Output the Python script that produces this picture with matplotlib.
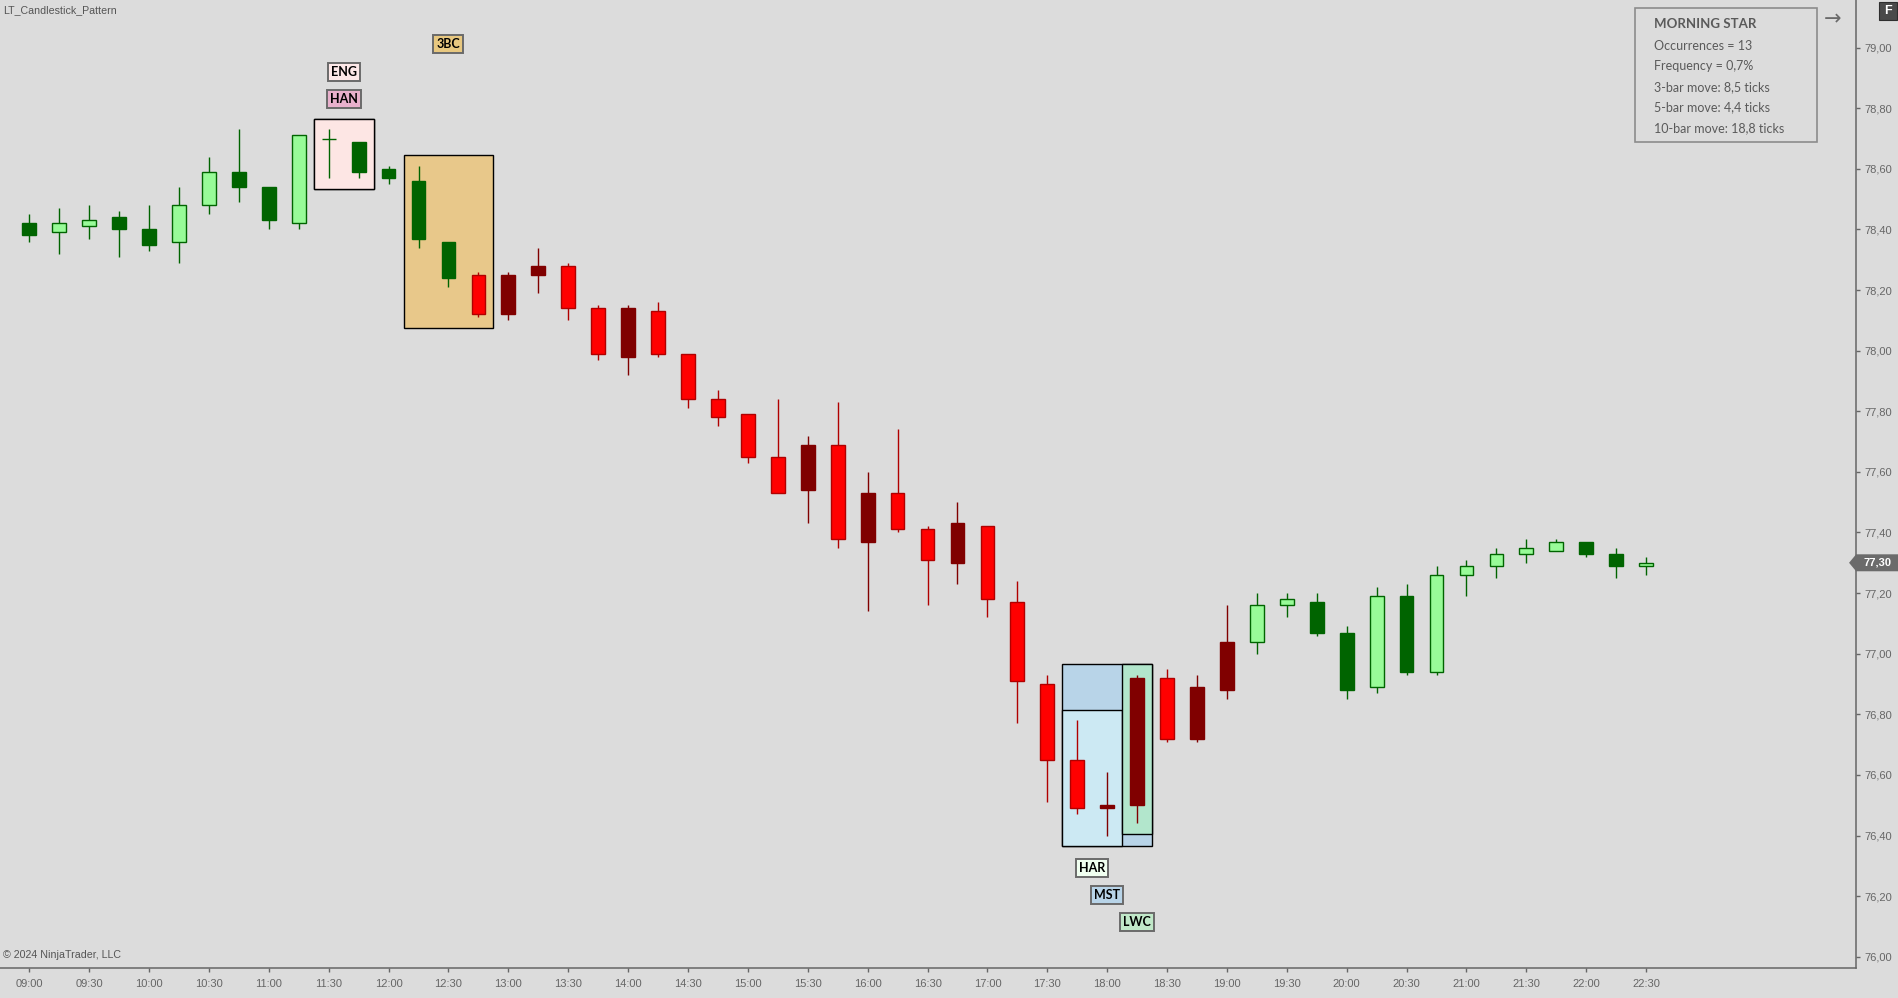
import matplotlib.pyplot as plt
import matplotlib.transforms as mtransforms
from matplotlib.patches import Rectangle, Polygon
import numpy as np

# 15 minute bars, 09:00 .. 22:30
opens = [78.42, 78.39, 78.41, 78.44, 78.40, 78.36, 78.48, 78.59, 78.54, 78.42,
         78.70, 78.69, 78.60, 78.56, 78.36, 78.25, 78.12, 78.25, 78.28, 78.14,
         77.98, 78.13, 77.99, 77.84, 77.79, 77.65, 77.54, 77.69, 77.37, 77.53,
         77.41, 77.30, 77.42, 77.17, 76.90, 76.65, 76.49, 76.50, 76.92, 76.72,
         76.88, 77.04, 77.16, 77.17, 77.07, 76.89, 77.19, 76.94, 77.26, 77.29,
         77.33, 77.34, 77.37, 77.33, 77.29]
highs = [78.45, 78.47, 78.48, 78.46, 78.48, 78.54, 78.64, 78.73, 78.54, 78.71,
         78.73, 78.69, 78.61, 78.61, 78.36, 78.26, 78.26, 78.34, 78.29, 78.15,
         78.15, 78.16, 77.99, 77.87, 77.79, 77.84, 77.72, 77.83, 77.60, 77.74,
         77.42, 77.50, 77.42, 77.24, 76.93, 76.78, 76.61, 76.93, 76.95, 76.93,
         77.16, 77.20, 77.20, 77.20, 77.09, 77.22, 77.23, 77.29, 77.31, 77.35,
         77.38, 77.38, 77.37, 77.35, 77.32]
lows = [78.36, 78.32, 78.37, 78.31, 78.33, 78.29, 78.45, 78.49, 78.40, 78.40,
        78.57, 78.57, 78.55, 78.34, 78.21, 78.11, 78.10, 78.19, 78.10, 77.97,
        77.92, 77.98, 77.81, 77.75, 77.63, 77.53, 77.43, 77.35, 77.14, 77.40,
        77.16, 77.23, 77.12, 76.77, 76.51, 76.47, 76.40, 76.44, 76.71, 76.71,
        76.85, 77.00, 77.12, 77.06, 76.85, 76.87, 76.93, 76.93, 77.19, 77.25,
        77.30, 77.34, 77.32, 77.25, 77.26]
closes = [78.38, 78.42, 78.43, 78.40, 78.35, 78.48, 78.59, 78.54, 78.43, 78.71,
          78.70, 78.59, 78.57, 78.37, 78.24, 78.12, 78.25, 78.28, 78.14, 77.99,
          78.14, 77.99, 77.84, 77.78, 77.65, 77.53, 77.69, 77.38, 77.53, 77.41,
          77.31, 77.43, 77.18, 76.91, 76.65, 76.49, 76.50, 76.92, 76.72, 76.89,
          77.04, 77.16, 77.18, 77.07, 76.88, 77.19, 76.94, 77.26, 77.29, 77.33,
          77.35, 77.37, 77.33, 77.29, 77.30]
trend = ['up'] * 15 + ['down'] * 26 + ['up'] * 14

time_labels = ['09:00', '09:30', '10:00', '10:30', '11:00', '11:30', '12:00',
               '12:30', '13:00', '13:30', '14:00', '14:30', '15:00', '15:30',
               '16:00', '16:30', '17:00', '17:30', '18:00', '18:30', '19:00',
               '19:30', '20:00', '20:30', '21:00', '21:30', '22:00', '22:30']

# patterns: name, first bar, last bar
pat_names = ['HAN', 'ENG', '3BC', 'MST', 'HAR', 'LWC']
pat_first = [10, 10, 13, 35, 35, 37]
pat_last = [11, 11, 15, 37, 36, 37]

info_title = 'MORNING STAR'
info_lines = ['Occurrences = 13', 'Frequency = 0,7%', '3-bar move: 8,5 ticks',
              '5-bar move: 4,4 ticks', '10-bar move: 18,8 ticks']

# styles
box_color = {'HAN': '#e8b4cc', 'ENG': '#fde6e4', '3BC': '#e8c88a',
             'MST': '#b8d4e8', 'HAR': '#cce9f3', 'LWC': '#b2e6cc'}
label_color = {'HAN': '#e8b0cc', 'ENG': '#fde8e8', '3BC': '#e8c880',
               'MST': '#b8d4e8', 'HAR': '#f0fff0', 'LWC': '#c0e8c8'}
# offset of the label from its box edge, pixels (+ above, - below)
label_off = {'HAN': 20, 'ENG': 47, '3BC': 111, 'HAR': -22, 'MST': -49, 'LWC': -88}

W, H = 1898, 998
BG = '#dcdcdc'
plt.rcParams['font.family'] = ['Liberation Sans', 'DejaVu Sans']


def fx(px):
    return px / W


def fy(py):
    return 1 - py / H


fig = plt.figure(figsize=(W / 100, H / 100), dpi=100, facecolor=BG)
ax = fig.add_axes([0, fy(968.3), fx(1856.3), 968.3 / H], facecolor=BG)

n = len(opens)
x = np.arange(n)
o = np.array(opens)
c = np.array(closes)

fills, edges = [], []
for i in range(n):
    up = c[i] > o[i]
    if trend[i] == 'up':
        fills.append('#98fb98' if up else '#006400')
        edges.append('#006400')
    else:
        fills.append('#800000' if up else '#ff0000')
        edges.append('#800000' if up else '#b00000')

# pattern boxes (under the candles)
pad = 0.035
for name, a, b in zip(pat_names, pat_first, pat_last):
    top = max(highs[a:b + 1]) + pad
    bot = min(lows[a:b + 1]) - pad
    ax.add_patch(Rectangle((a - 0.5, bot), b - a + 1, top - bot,
                           facecolor=box_color[name], edgecolor='black',
                           lw=1.0, zorder=1))
    off = label_off[name]
    ax.annotate(name, xy=((a + b) / 2, top if off > 0 else bot),
                xytext=(0, off), textcoords='offset pixels',
                ha='center', va='center', fontsize=9, fontweight='bold',
                family=['Lato', 'DejaVu Sans'], color='black',
                bbox=dict(boxstyle='square,pad=0.25', facecolor=label_color[name],
                          edgecolor='#6a6a6a', lw=1.4),
                annotation_clip=False, zorder=5)

ax.vlines(x, lows, highs, colors=edges, lw=1.0, zorder=2)
ax.bar(x, np.abs(c - o), bottom=np.minimum(o, c), width=0.46,
       color=fills, edgecolor=edges, lw=1.0, zorder=3)

ax.set_xlim(-0.979, 61.02)
ax.set_ylim(75.962, 79.157)

ax.spines['top'].set_visible(False)
ax.spines['left'].set_visible(False)
for s in ['right', 'bottom']:
    ax.spines[s].set_color('#666666')
    ax.spines[s].set_linewidth(1.1)

ax.set_xticks(x[::2])
ax.set_xticklabels(time_labels)
yt = np.arange(76.0, 79.01, 0.2)
ax.set_yticks(yt)
ax.set_yticklabels([('%.2f' % v).replace('.', ',') for v in yt])
ax.yaxis.tick_right()
ax.tick_params(axis='both', direction='out', length=3, width=1,
               color='#666666', labelcolor='#666666', labelsize=8)
ax.tick_params(axis='x', pad=5)
ax.tick_params(axis='y', pad=3)

# last price tag
bt = mtransforms.blended_transform_factory(ax.transAxes, ax.transData)
lp = closes[-1]
h2 = 0.028
tag = Polygon([(0.9961, lp), (0.9999, lp + h2), (1.023, lp + h2),
               (1.023, lp - h2), (0.9999, lp - h2)], closed=True,
              transform=bt, facecolor='#6b6b6b', edgecolor='none',
              clip_on=False, zorder=6)
ax.add_patch(tag)
ax.text(1.0115, lp, ('%.2f' % lp).replace('.', ','), transform=bt,
        ha='center', va='center', fontsize=8, fontweight='bold',
        color='white', clip_on=False, zorder=7)

# info box
fig.add_artist(Rectangle((fx(1635), fy(142.3)), fx(182), 134 / H,
                         transform=fig.transFigure, fill=False,
                         edgecolor='#8c8c8c', lw=1.2))
fig.text(fx(1654), fy(24.3), info_title, ha='left', va='center',
         fontsize=9.5, fontweight='bold', color='#5a5a5a', family='Lato')
for k, s in enumerate(info_lines):
    fig.text(fx(1654), fy(45.7 + 20.5 * k), s, ha='left', va='center',
             fontsize=9, color='#5a5a5a', family='Lato')

fig.text(fx(1833), fy(19), '\u2192', ha='center', va='center',
         fontsize=15, color='#6a6a6a', family='DejaVu Sans')

# "F" button
fig.add_artist(Rectangle((fx(1879), fy(20)), fx(18), 18 / H,
                         transform=fig.transFigure, facecolor='#4a4a4a',
                         edgecolor='#2e2e2e', lw=0.8))
fig.text(fx(1888), fy(11), 'F', ha='center', va='center', fontsize=9,
         color='white', fontweight='bold')

fig.text(fx(3), fy(10), 'LT_Candlestick_Pattern', ha='left', va='center',
         fontsize=7.7, color='#555555')
fig.text(fx(3), fy(955), '\u00a9 2024 NinjaTrader, LLC', ha='left', va='center',
         fontsize=7.7, color='#555555')

fig.savefig('out.png', dpi=100, facecolor=BG)
